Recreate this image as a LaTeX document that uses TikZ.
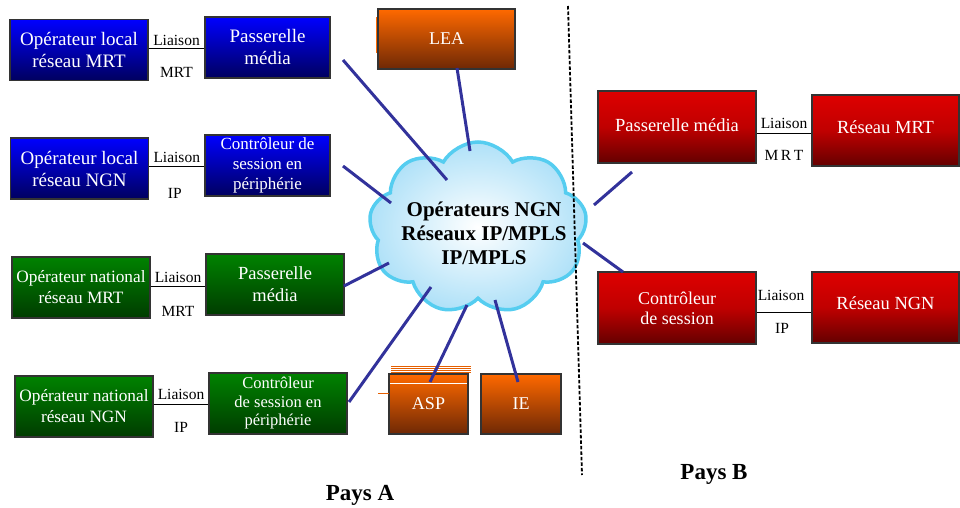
\documentclass[tikz,border=0pt]{standalone}
\usepackage{fontspec}
\setmainfont{Liberation Serif}
\usetikzlibrary{shapes.symbols,calc}
\definecolor{linkblue}{RGB}{50,50,155}
\definecolor{cloudedge}{RGB}{85,205,240}
\definecolor{cloudfill}{RGB}{175,225,248}
\definecolor{bluetop}{RGB}{0,0,255}
\definecolor{bluebot}{RGB}{0,0,95}
\definecolor{greentop}{RGB}{0,130,0}
\definecolor{greenbot}{RGB}{0,60,0}
\definecolor{redtop}{RGB}{222,0,0}
\definecolor{redbot}{RGB}{100,0,0}
\definecolor{orangetop}{RGB}{255,105,0}
\definecolor{orangebot}{RGB}{110,40,5}
\tikzset{
  box/.style={draw=black!80, line width=1.1pt, text=white, align=center, inner sep=0pt, minimum width=#1},
  bluebox/.style={box=138pt, minimum height=61pt, top color=bluetop, bottom color=bluebot},
  greenbox/.style={box=138pt, minimum height=61pt, top color=greentop, bottom color=greenbot},
  redbox/.style={box=158pt, minimum height=72pt, top color=redtop, bottom color=redbot, middle color=redtop!75!redbot},
  orangebox/.style={box=80pt, minimum height=60pt, top color=orangetop, bottom color=orangebot},
  liaison/.style={draw=black, line width=0.9pt},
  lbl/.style={text=black, font=\fontsize{15.5}{16}\selectfont, inner sep=0pt},
  link/.style={draw=linkblue, line width=3pt},
  pays/.style={font=\bfseries\fontsize{23}{24}\selectfont}
}
\begin{document}
\begin{tikzpicture}[x=1pt,y=-1pt]
\useasboundingbox (0,0) rectangle (960,508);
% cloud
\node[cloud, cloud puffs=9, cloud puff arc=120, aspect=1.25, draw=cloudedge, line width=3.5pt,
  inner color=white, outer color=cloudfill, minimum width=218pt, minimum height=172pt, inner sep=0pt] (cloud) at (478,228) {};
\node[align=center, font=\bfseries\fontsize{21}{24}\selectfont, inner sep=0pt] (cloudtxt) at (484,233)
  {Opérateurs NGN\\Réseaux IP/MPLS\\IP/MPLS};

% Pays A boxes
\node[bluebox, font=\fontsize{19}{22}\selectfont] (B1) at (79,50) {Opérateur local\\réseau MRT};
\node[bluebox, minimum width=125pt, font=\fontsize{19}{22}\selectfont] (B2) at (267.5,47.5) {Passerelle\\média};
\node[bluebox, font=\fontsize{19}{22}\selectfont] (B3) at (79.5,168.5) {Opérateur local\\réseau NGN};
\node[bluebox, minimum width=125pt, font=\fontsize{17}{20}\selectfont] (B4) at (267.5,165.5) {Contrôleur de\\session en\\périphérie};
\node[greenbox, font=\fontsize{17.3}{21}\selectfont] (G1) at (81,287.5) {Opérateur national\\réseau MRT};
\node[greenbox, font=\fontsize{18.5}{22}\selectfont] (G2) at (275,284.5) {Passerelle\\média};
\node[greenbox, font=\fontsize{17.3}{21}\selectfont] (G3) at (84,406.5) {Opérateur national\\réseau NGN};
\node[greenbox, font=\fontsize{16.5}{18.5}\selectfont] (G4) at (278,403.5) {Contrôleur\\de session en\\périphérie};

% orange boxes
\fill[orangetop] (375.5,17) rectangle (378,53);
\node[orangebox, minimum width=137pt, font=\fontsize{18}{20}\selectfont] (LEA) at (446.5,39) {LEA};
\foreach \yy in {366.5,368.5,370.5,372.5} \draw[orangetop!90!black, line width=0.9pt] (391,\yy) -- (471,\yy);
\node[orangebox, minimum width=79pt, font=\fontsize{18}{20}\selectfont] (ASP) at (428.5,404) {ASP};
\draw[white, line width=0.9pt] (390,383.5) -- (467,383.5);
\draw[orangetop!90!black, line width=0.6pt] (378,393) -- (389,393);
\node[orangebox, font=\fontsize{18}{20}\selectfont] (IE) at (521,404) {IE};

% Pays B boxes
\node[redbox, font=\fontsize{18.5}{22}\selectfont] (R1) at (677,127) {\raisebox{3pt}{Passerelle média}};
\node[redbox, minimum width=147pt, minimum height=71pt, font=\fontsize{18.5}{22}\selectfont] (R2) at (885.5,130.5) {\raisebox{6pt}{Réseau MRT}};
\node[redbox, font=\fontsize{18}{20}\selectfont] (R3) at (677,308) {Contrôleur\\de session};
\node[redbox, minimum width=147pt, minimum height=71pt, font=\fontsize{18.5}{22}\selectfont] (R4) at (885.5,307.5) {\raisebox{8pt}{Réseau NGN}};

% liaison connectors
\draw[liaison] (B1.east |- 0,48) coordinate (l1a) -- (B2.west |- l1a)
  node[lbl, midway, yshift=8pt] {Liaison} node[lbl, midway, yshift=-24pt] {MRT};
\draw[liaison] (B3.east |- 0,166) coordinate (l2a) -- (B4.west |- l2a)
  node[lbl, midway, yshift=9pt] {Liaison} node[lbl, midway, yshift=-27pt, xshift=-2pt] {IP};
\draw[liaison] (G1.east |- 0,286) coordinate (l3a) -- (G2.west |- l3a)
  node[lbl, midway, yshift=9pt] {Liaison} node[lbl, midway, yshift=-25pt] {MRT};
\draw[liaison] (G3.east |- 0,404) coordinate (l4a) -- (G4.west |- l4a)
  node[lbl, midway, yshift=10pt] {Liaison} node[lbl, midway, yshift=-23pt] {IP};
\draw[liaison] (R1.east |- 0,133) coordinate (l5a) -- (R2.west |- l5a)
  node[lbl, midway, yshift=10pt] {Liaison} node[lbl, midway, yshift=-22pt] {M\,R\,T};
\draw[liaison] (R3.east |- 0,312) coordinate (l6a) -- (R4.west |- l6a)
  node[lbl, midway, yshift=17pt, xshift=-3pt] {Liaison} node[lbl, midway, yshift=-16pt, xshift=-2pt] {IP};

% links to cloud
\coordinate (c1a) at (343,60);  \coordinate (c1b) at (447,180);
\coordinate (c2a) at (343,166); \coordinate (c2b) at (391,203);
\coordinate (c3a) at (344,286); \coordinate (c3b) at (389,263);
\coordinate (c4a) at (349,402); \coordinate (c4b) at (431,287);
\coordinate (c5a) at (457,68);  \coordinate (c5b) at (470,151);
\coordinate (c6a) at (430,382); \coordinate (c6b) at (467,305);
\coordinate (c7a) at (518,382); \coordinate (c7b) at (495,300);
\coordinate (c8a) at (632,172); \coordinate (c8b) at (594,205);
\coordinate (c9a) at (623,272); \coordinate (c9b) at (583,243);
\foreach \i in {1,...,9} \draw[link] (c\i a) -- (c\i b);

% border between countries
\coordinate (d1) at (568,6); \coordinate (d2) at (582,475);
\draw[black, line width=1.8pt, dash pattern=on 3.5pt off 2pt] (d1) -- (d2);

\node[pays] (PA) at (360,495) {Pays A};
\node[pays] (PB) at (714,474) {Pays B};
\end{tikzpicture}
\end{document}
